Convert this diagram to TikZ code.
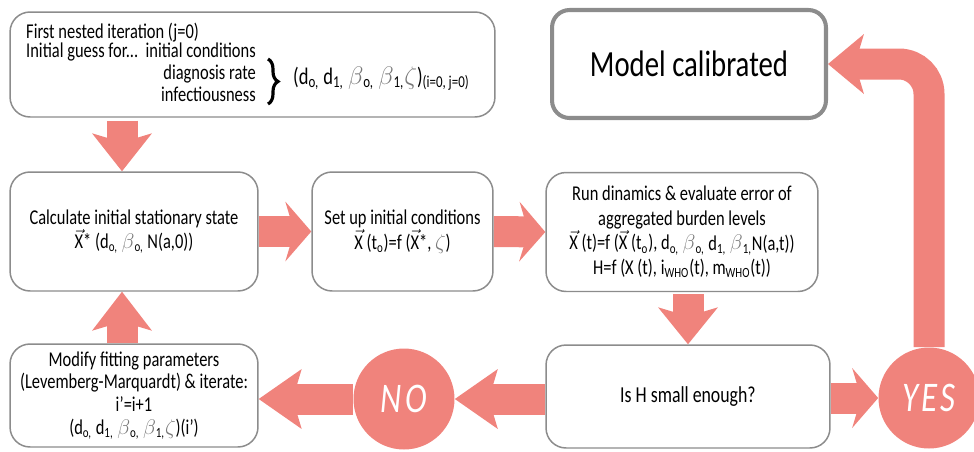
\documentclass[tikz,border=0pt]{standalone}
\usepackage{fontspec}
\setmainfont{Carlito}[FakeStretch=0.78]
\usetikzlibrary{arrows.meta,decorations.pathreplacing,backgrounds}

\newcommand{\vx}{\ensuremath{\vec{\mbox{X}}}}
\newcommand{\gr}[1]{{\color{GreekGray}$#1$}}

\begin{document}
\begin{tikzpicture}[x=0.02cm,y=-0.02cm,
  every node/.style={font=\fontsize{12}{14}\selectfont},
  box/.style={draw=BoxGray,line width=0.85pt,rounded corners=0.4cm,fill=white,align=center,inner sep=0pt},
  fat/.style={Salmon,line width=0.62cm,-{Stealth[length=#1,width=1.2cm,inset=0.18cm,line width=0pt]}},
  fat/.default=0.52cm,
  answer/.style={circle,fill=Salmon,minimum size=2.02cm,inner sep=0pt,text=white,
    font=\fontsize{24}{25}\selectfont\itshape\addfontfeature{LetterSpace=8}}]

%Colours
\definecolor{Salmon}{RGB}{240,131,124}
\definecolor{BoxGray}{RGB}{140,140,140}
\definecolor{GreekGray}{RGB}{120,120,120}

\useasboundingbox (0,0) rectangle (974,451);

%First guess
\node[box,minimum width=9.7cm,minimum height=2.1cm] (guess) at (252.5,64.5) {};
\node[anchor=base west] (nested) at (20,38) {First nested iteration (j=0)};
\node[anchor=base west] (guessfor) at (20,57) {Initial guess for...};
\node[anchor=base east] (initcond) at (262,57) {initial conditions};
\node[anchor=base east] (diagrate) at (262,79) {diagnosis rate};
\node[anchor=base east] (infect) at (262,101) {infectiousness};
\draw[line width=1.8pt,decorate,decoration={brace,amplitude=0.2cm}] (268,59) -- (268,104);
\node[anchor=base west] (params) at (287,84)
  {\fontsize{13.5}{14}\selectfont(d\textsubscript{o,} d\textsubscript{1,} \gr{\beta}\textsubscript{o,} \gr{\beta}\textsubscript{1,}\gr{\zeta})\textsubscript{(i=0, j=0)}};

%Model calibrated
\node[box,draw=BoxGray,line width=2.3pt,rounded corners=0.35cm,minimum width=5.48cm,minimum height=2.16cm,
  font=\fontsize{21}{22}\selectfont] (model) at (689,64) {Model calibrated};

%Middle row
\node[box,minimum width=4.96cm,minimum height=2.38cm] (calc) at (134,231.5)
  {Calculate initial stationary state\\ \vx* (d\textsubscript{o,} \gr{\beta}\textsubscript{o,} N(a,0))};
\node[box,minimum width=3.62cm,minimum height=2.38cm] (setup) at (402.5,231.5)
  {Set up initial conditions\\ \vx\ (t\textsubscript{o})=f (\vx*, \gr{\zeta})};
\node[box,minimum width=5.44cm,minimum height=2.38cm] (run) at (682,232)
  {Run dinamics \& evaluate error of\\ aggregated burden levels\\
   \vx\ (t)=f (\vx\ (t\textsubscript{o}), d\textsubscript{o,} \gr{\beta}\textsubscript{o,} d\textsubscript{1,} \gr{\beta}\textsubscript{1,}N(a,t))\\
   H=f (X (t), i\textsubscript{WHO}(t), m\textsubscript{WHO}(t))};

%Bottom row
\node[box,minimum width=4.96cm,minimum height=2.06cm,font=\fontsize{12}{13}\selectfont] (modify) at (134,395.5)
  {Modify fitting parameters\\ (Levemberg-Marquardt) \& iterate:\\ i’=i+1\\
   (d\textsubscript{o,} d\textsubscript{1,} \gr{\beta}\textsubscript{o,} \gr{\beta}\textsubscript{1,}\gr{\zeta})(i’)};
\node[box,minimum width=5.68cm,minimum height=2.06cm,font=\fontsize{13}{14}\selectfont] (small) at (688,396.5) {Is H small enough?};
\node[answer] (no) at (404,399) {NO};
\node[answer] (yes) at (929,398) {YES};

%Arrows
\begin{scope}[on background layer]
\draw[fat=0.76cm,shorten <=0.06cm] ([xshift=-0.24cm]calc.north |- guess.south) -- ([xshift=-0.24cm]calc.north);
\draw[fat] (calc.east) -- (setup.west);
\draw[fat] (setup.east) -- (run.west);
\draw[fat=0.74cm,shorten <=0.04cm] (run.south -| small.north) -- (small.north);
\draw[fat=0.86cm] (small.west |- no) -- (no.east);
\draw[fat=0.86cm] (no) -- (modify.east |- no);
\draw[fat=0.78cm] ([xshift=-0.24cm]modify.north) -- ([xshift=-0.24cm]calc.south);
\draw[fat] (small.east |- yes) -- (yes.west);
\draw[fat=0.72cm,rounded corners=0.6cm] (yes) |- (model.east);
\end{scope}

\end{tikzpicture}
\end{document}
